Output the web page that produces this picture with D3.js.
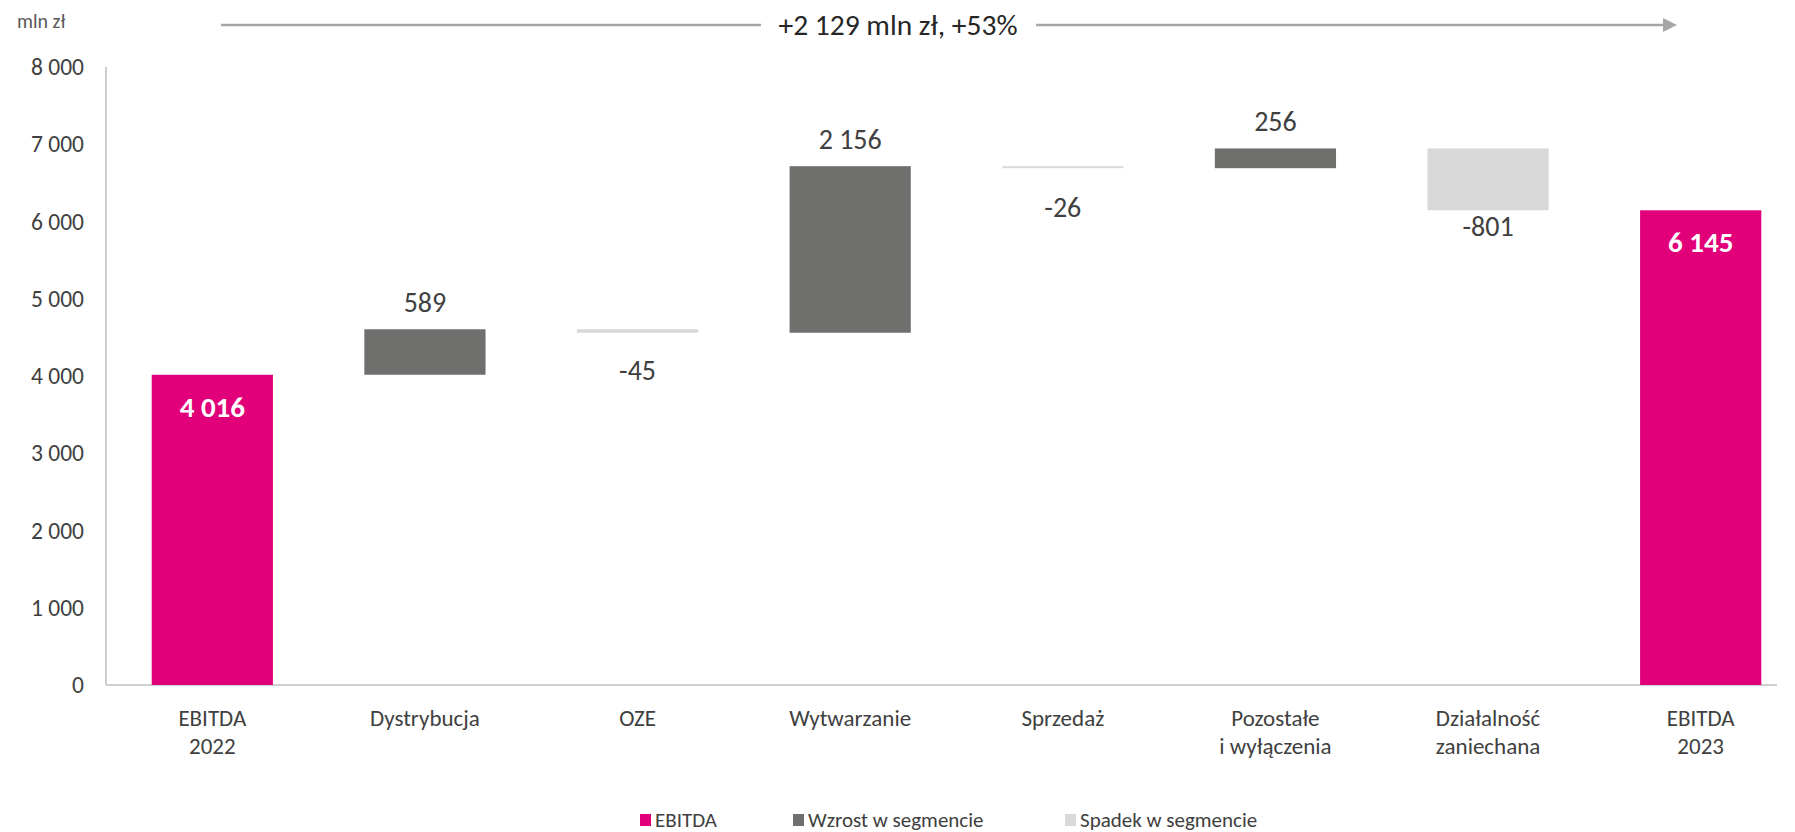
<!DOCTYPE html>
<html>
<head>
<meta charset="utf-8">
<script src="https://cdn.jsdelivr.net/npm/d3@7"></script>
<style>
  body { margin: 0; background: #fff; }
  svg { font-family: Carlito, Calibri, Lato, sans-serif; }
  .tick-label { fill: #404040; font-size: 23.5px; }
  .cat-label { fill: #404040; font-size: 23px; }
  .val-label { fill: #404040; font-size: 28px; }
  .tot-label { fill: #fff; font-size: 29px; font-weight: bold; }
  .legend-text { fill: #404040; font-size: 21px; }
</style>
</head>
<body>
<svg width="1795" height="832"></svg>
<script>
// dane
var categories = ["EBITDA\n2022", "Dystrybucja", "OZE", "Wytwarzanie", "Sprzedaż", "Pozostałe\ni wyłączenia", "Działalność\nzaniechana", "EBITDA\n2023"];
var values = [4016, 589, -45, 2156, -26, 256, -801, 6145];
var kinds = ["total", "delta", "delta", "delta", "delta", "delta", "delta", "total"];
var yTicks = [0, 1000, 2000, 3000, 4000, 5000, 6000, 7000, 8000];
var legendLabels = ["EBITDA", "Wzrost w segmencie", "Spadek w segmencie"];
var unitLabel = "mln zł";
var changeLabel = "+2 129 mln zł, +53%";

var colors = { total: "#e2007a", up: "#6f6f6e", down: "#d9d9d9" };

var svg = d3.select("svg");
var plotLeft = 106, plotRight = 1777, plotTop = 67, plotBottom = 685;

var pl = d3.formatLocale({ decimal: ",", thousands: " ", grouping: [3], currency: ["", ""], minus: "-" });
var fmt = pl.format(",d");

var xScale = d3.scaleBand().domain(categories).range([plotLeft, 1807]).paddingInner(0.43).paddingOuter(0.215);
var yScale = d3.scaleLinear().domain([0, 8000]).range([plotBottom, plotTop]);

// policz kroki wodospadu
var run = 0;
var bars = values.map(function(v, i) {
    var b = { cat: categories[i], value: v, kind: kinds[i] };
    if (kinds[i] == "total") {
        b.y0 = 0; b.y1 = v; run = v;
        b.type = "total";
    } else {
        b.y0 = run; b.y1 = run + v; run = run + v;
        b.type = v >= 0 ? "up" : "down";
    }
    return b;
});

// osie
svg.append("line")
    .attr("x1", plotLeft).attr("x2", plotLeft)
    .attr("y1", plotTop).attr("y2", plotBottom)
    .attr("stroke", "#bfbfbf").attr("stroke-width", 1.5);

svg.append("line")
    .attr("x1", plotLeft).attr("x2", plotRight)
    .attr("y1", plotBottom).attr("y2", plotBottom)
    .attr("stroke", "#bfbfbf").attr("stroke-width", 1.5);

svg.selectAll(".tick-label")
    .data(yTicks)
    .enter()
    .append("text")
    .attr("class", "tick-label")
    .attr("x", plotLeft - 22)
    .attr("y", (d) => yScale(d))
    .attr("dy", "0.35em")
    .attr("text-anchor", "end")
    .text((d) => fmt(d));

svg.append("text")
    .attr("x", 17)
    .attr("y", 21)
    .attr("dy", "0.35em")
    .attr("fill", "#595959")
    .attr("font-size", "20px")
    .text(unitLabel);

// słupki
svg.selectAll(".bar")
    .data(bars)
    .enter()
    .append("rect")
    .attr("class", "bar")
    .attr("x", (d) => xScale(d.cat))
    .attr("width", xScale.bandwidth())
    .attr("y", (d) => yScale(Math.max(d.y0, d.y1)))
    .attr("height", (d) => Math.max(1.5, Math.abs(yScale(d.y0) - yScale(d.y1))))
    .attr("fill", (d) => colors[d.type]);

// etykiety wartości
svg.selectAll(".lbl")
    .data(bars)
    .enter()
    .append("text")
    .attr("class", (d) => d.type == "total" ? "tot-label" : "val-label")
    .attr("text-anchor", "middle")
    .attr("x", (d) => xScale(d.cat) + xScale.bandwidth() / 2)
    .attr("y", function(d) {
        var yt = yScale(Math.max(d.y0, d.y1));
        var yb = yScale(Math.min(d.y0, d.y1));
        if (d.type == "total") return yt + 42;
        if (d.type == "up") return yt - 17;
        return yb + Math.max(26, 51 - (yb - yt));
    })
    .text((d) => fmt(d.value));

// kategorie
var cat = svg.selectAll(".cat")
    .data(categories)
    .enter()
    .append("text")
    .attr("class", "cat-label")
    .attr("text-anchor", "middle")
    .attr("x", (d) => xScale(d) + xScale.bandwidth() / 2)
    .attr("y", plotBottom + 41);

cat.selectAll("tspan")
    .data((d) => d.split("\n"))
    .enter()
    .append("tspan")
    .attr("x", function() { return d3.select(this.parentNode).attr("x"); })
    .attr("dy", (d, i) => i == 0 ? 0 : 28)
    .text((d) => d);

// strzałka zmiany
var ay = 25;
var ax1 = 221, ax2 = 1677, tx = 898;
svg.append("text")
    .attr("x", tx)
    .attr("y", ay)
    .attr("dy", "0.35em")
    .attr("text-anchor", "middle")
    .attr("fill", "#262626")
    .attr("font-size", "29.5px")
    .text(changeLabel);

svg.append("line")
    .attr("x1", ax1).attr("x2", tx - 137)
    .attr("y1", ay).attr("y2", ay)
    .attr("stroke", "#a6a6a6").attr("stroke-width", 2.5);

svg.append("line")
    .attr("x1", tx + 138).attr("x2", ax2 - 12)
    .attr("y1", ay).attr("y2", ay)
    .attr("stroke", "#a6a6a6").attr("stroke-width", 2.5);

svg.append("path")
    .attr("d", "M" + (ax2 - 14) + "," + (ay - 7) + "L" + ax2 + "," + ay + "L" + (ax2 - 14) + "," + (ay + 7) + "Z")
    .attr("fill", "#a6a6a6");

// legenda
var legendX = [640, 793, 1065];
var legendColors = [colors.total, colors.up, colors.down];
var lg = svg.selectAll(".legend")
    .data(legendLabels)
    .enter()
    .append("g")
    .attr("transform", (d, i) => "translate(" + legendX[i] + ",820)");

lg.append("rect")
    .attr("x", 0).attr("y", -6)
    .attr("width", 11).attr("height", 12)
    .attr("fill", (d, i) => legendColors[i]);

lg.append("text")
    .attr("class", "legend-text")
    .attr("x", 15)
    .attr("dy", "0.35em")
    .text((d) => d);
</script>
</body>
</html>
